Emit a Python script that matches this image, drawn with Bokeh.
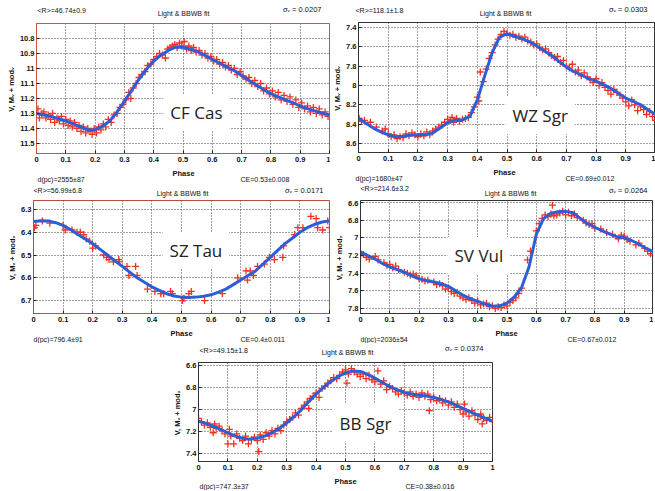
from bokeh.plotting import figure
from bokeh.models import Range1d, CustomJSTickFormatter, Label, Spacer
from bokeh.layouts import row, column
from bokeh.embed import file_html
from bokeh.resources import INLINE

# ---------------- data ----------------
phase_ticks = [0, 0.1, 0.2, 0.3, 0.4, 0.5, 0.6, 0.7, 0.8, 0.9, 1]
fit_phase = [0.000, 0.025, 0.050, 0.075, 0.100, 0.125, 0.150, 0.175, 0.200, 0.225,
             0.250, 0.275, 0.300, 0.325, 0.350, 0.375, 0.400, 0.425, 0.450, 0.475,
             0.500, 0.525, 0.550, 0.575, 0.600, 0.625, 0.650, 0.675, 0.700, 0.725,
             0.750, 0.775, 0.800, 0.825, 0.850, 0.875, 0.900, 0.925, 0.950, 0.975, 1.000]

# CF Cas
cfcas_ticks = [10.8, 10.9, 11.0, 11.1, 11.2, 11.3, 11.4, 11.5]
cfcas_fit = [11.300, 11.310, 11.320, 11.335, 11.350, 11.370, 11.390, 11.410, 11.408, 11.385,
             11.350, 11.290, 11.220, 11.145, 11.070, 11.005, 10.950, 10.910, 10.880, 10.858,
             10.858, 10.870, 10.888, 10.912, 10.940, 10.965, 10.990, 11.015, 11.045, 11.080,
             11.110, 11.140, 11.168, 11.190, 11.210, 11.230, 11.250, 11.268, 11.283, 11.297, 11.310]
cfcas_obs_phase = [0.005, 0.010, 0.018, 0.025, 0.032, 0.040, 0.048, 0.055, 0.062, 0.070,
                   0.078, 0.085, 0.092, 0.100, 0.108, 0.115, 0.122, 0.130, 0.138, 0.145,
                   0.152, 0.160, 0.168, 0.175, 0.183, 0.190, 0.197, 0.205, 0.212, 0.220,
                   0.228, 0.236, 0.245, 0.255, 0.265, 0.275, 0.285, 0.295, 0.305, 0.315,
                   0.322, 0.330, 0.340, 0.350, 0.360, 0.370, 0.380, 0.390, 0.400, 0.410,
                   0.420, 0.430, 0.440, 0.448, 0.456, 0.464, 0.472, 0.480, 0.488, 0.496,
                   0.504, 0.512, 0.520, 0.528, 0.536, 0.545, 0.555, 0.565, 0.575, 0.585,
                   0.595, 0.605, 0.615, 0.625, 0.635, 0.645, 0.655, 0.665, 0.675, 0.685,
                   0.695, 0.705, 0.715, 0.725, 0.735, 0.745, 0.755, 0.765, 0.775, 0.785,
                   0.795, 0.805, 0.815, 0.825, 0.835, 0.845, 0.855, 0.865, 0.875, 0.885,
                   0.895, 0.905, 0.915, 0.925, 0.935, 0.945, 0.955, 0.965, 0.975, 0.985, 0.995]
cfcas_obs_mag = [11.27, 11.33, 11.30, 11.29, 11.33, 11.31, 11.34, 11.30, 11.36, 11.33,
                 11.35, 11.32, 11.37, 11.34, 11.38, 11.35, 11.39, 11.36, 11.40, 11.38,
                 11.42, 11.39, 11.43, 11.40, 11.42, 11.44, 11.40, 11.43, 11.39, 11.41,
                 11.37, 11.39, 11.34, 11.36, 11.31, 11.30, 11.26, 11.24, 11.21, 11.16,
                 11.20, 11.13, 11.10, 11.06, 11.04, 11.02, 10.98, 10.97, 10.94, 10.92,
                 10.90, 10.91, 10.93, 10.87, 10.86, 10.85, 10.84, 10.86, 10.83, 10.85,
                 10.82, 10.87, 10.85, 10.88, 10.86, 10.89, 10.88, 10.91, 10.90, 10.93,
                 10.92, 10.95, 10.94, 10.97, 10.96, 10.99, 10.98, 11.01, 11.00, 11.04,
                 11.02, 11.05, 11.07, 11.06, 11.10, 11.08, 11.12, 11.10, 11.15, 11.13,
                 11.17, 11.15, 11.19, 11.16, 11.21, 11.18, 11.22, 11.19, 11.24, 11.21,
                 11.26, 11.23, 11.27, 11.25, 11.29, 11.26, 11.30, 11.27, 11.31, 11.29, 11.32]

# WZ Sgr
wzsgr_ticks = [7.4, 7.6, 7.8, 8.0, 8.2, 8.4, 8.6]
wzsgr_fit = [8.340, 8.390, 8.440, 8.480, 8.510, 8.530, 8.525, 8.515, 8.510, 8.510,
             8.490, 8.440, 8.385, 8.360, 8.355, 8.320, 8.150, 7.900, 7.660, 7.500,
             7.465, 7.490, 7.515, 7.545, 7.590, 7.640, 7.690, 7.750, 7.810, 7.855,
             7.890, 7.930, 7.955, 7.990, 8.030, 8.080, 8.130, 8.165, 8.200, 8.250, 8.300]
wzsgr_obs_phase = [0.002, 0.010, 0.020, 0.040, 0.060, 0.080, 0.090, 0.100, 0.110, 0.120,
                   0.130, 0.140, 0.150, 0.160, 0.170, 0.180, 0.190, 0.200, 0.210, 0.220,
                   0.230, 0.240, 0.250, 0.260, 0.270, 0.280, 0.290, 0.300, 0.310, 0.315,
                   0.320, 0.330, 0.340, 0.350, 0.360, 0.370, 0.380, 0.390, 0.400, 0.405,
                   0.410, 0.420, 0.430, 0.440, 0.450, 0.460, 0.470, 0.480, 0.490, 0.500,
                   0.510, 0.520, 0.530, 0.540, 0.550, 0.560, 0.570, 0.580, 0.590, 0.600,
                   0.610, 0.620, 0.630, 0.640, 0.650, 0.660, 0.670, 0.680, 0.690, 0.700,
                   0.710, 0.720, 0.730, 0.740, 0.750, 0.760, 0.770, 0.780, 0.790, 0.800,
                   0.810, 0.820, 0.830, 0.840, 0.850, 0.860, 0.870, 0.880, 0.890, 0.900,
                   0.910, 0.920, 0.930, 0.940, 0.950, 0.960, 0.970, 0.980, 0.990, 1.000]
wzsgr_obs_mag = [8.34, 8.37, 8.36, 8.38, 8.43, 8.47, 8.45, 8.50, 8.53, 8.51,
                 8.55, 8.53, 8.54, 8.50, 8.52, 8.49, 8.51, 8.53, 8.50, 8.52,
                 8.48, 8.51, 8.47, 8.45, 8.43, 8.41, 8.38, 8.35, 8.36, 8.33,
                 8.38, 8.34, 8.37, 8.35, 8.34, 8.33, 8.28, 8.22, 8.12, 8.16,
                 7.86, 7.96, 7.83, 7.72, 7.66, 7.58, 7.52, 7.47, 7.44, 7.46,
                 7.48, 7.47, 7.50, 7.49, 7.52, 7.50, 7.54, 7.55, 7.58, 7.57,
                 7.61, 7.63, 7.62, 7.66, 7.69, 7.71, 7.70, 7.76, 7.74, 7.80,
                 7.82, 7.78, 7.86, 7.84, 7.90, 7.87, 7.91, 7.94, 7.97, 7.93,
                 8.00, 7.97, 8.02, 8.05, 8.09, 8.04, 8.07, 8.10, 8.13, 8.17,
                 8.21, 8.15, 8.20, 8.26, 8.22, 8.25, 8.30, 8.27, 8.32, 8.36]

# SZ Tau
sztau_ticks = [6.3, 6.4, 6.5, 6.6, 6.7]
sztau_fit = [6.353, 6.349, 6.350, 6.358, 6.370, 6.388, 6.410, 6.430, 6.450, 6.475,
             6.500, 6.525, 6.550, 6.575, 6.600, 6.620, 6.640, 6.655, 6.670, 6.680,
             6.685, 6.687, 6.685, 6.681, 6.675, 6.663, 6.650, 6.630, 6.610, 6.590,
             6.570, 6.540, 6.510, 6.480, 6.450, 6.425, 6.400, 6.380, 6.365, 6.355, 6.350]
sztau_obs_phase = [0.003, 0.008, 0.030, 0.055, 0.100, 0.107, 0.130, 0.147, 0.158, 0.170,
                   0.178, 0.190, 0.200, 0.210, 0.237, 0.247, 0.255, 0.270, 0.288, 0.290,
                   0.316, 0.322, 0.345, 0.350, 0.385, 0.410, 0.430, 0.440, 0.463, 0.469,
                   0.503, 0.508, 0.525, 0.533, 0.578, 0.638, 0.690, 0.718, 0.723, 0.732,
                   0.743, 0.757, 0.780, 0.797, 0.814, 0.842, 0.845, 0.882, 0.893, 0.910,
                   0.937, 0.955, 0.960, 0.977, 0.994, 1.000]
sztau_obs_mag = [6.38, 6.37, 6.35, 6.36, 6.37, 6.39, 6.39, 6.40, 6.40, 6.41,
                 6.43, 6.44, 6.47, 6.46, 6.50, 6.51, 6.52, 6.53, 6.52, 6.53,
                 6.55, 6.59, 6.55, 6.59, 6.65, 6.66, 6.67, 6.67, 6.66, 6.67,
                 6.70, 6.69, 6.67, 6.66, 6.70, 6.67, 6.60, 6.57, 6.61, 6.57,
                 6.59, 6.55, 6.54, 6.51, 6.52, 6.51, 6.46, 6.41, 6.38, 6.38,
                 6.33, 6.34, 6.38, 6.39, 6.35, 6.38]

# SV Vul
svvul_ticks = [6.6, 6.8, 7.0, 7.2, 7.4, 7.6, 7.8]
svvul_fit = [7.160, 7.200, 7.240, 7.290, 7.330, 7.360, 7.390, 7.430, 7.465, 7.485,
             7.500, 7.520, 7.550, 7.600, 7.650, 7.690, 7.720, 7.750, 7.775, 7.770,
             7.740, 7.670, 7.560, 7.330, 6.960, 6.780, 6.720, 6.705, 6.700, 6.715,
             6.780, 6.840, 6.880, 6.920, 6.955, 6.990, 7.000, 7.030, 7.070, 7.120, 7.160]
svvul_obs_phase = [0.000, 0.010, 0.020, 0.030, 0.050, 0.060, 0.080, 0.090, 0.100, 0.110,
                   0.120, 0.130, 0.150, 0.160, 0.170, 0.180, 0.190, 0.200, 0.210, 0.220,
                   0.230, 0.250, 0.260, 0.270, 0.280, 0.290, 0.300, 0.310, 0.320, 0.330,
                   0.340, 0.350, 0.360, 0.370, 0.380, 0.390, 0.400, 0.410, 0.420, 0.430,
                   0.440, 0.450, 0.460, 0.470, 0.480, 0.490, 0.500, 0.510, 0.520, 0.530,
                   0.540, 0.550, 0.570, 0.580, 0.600, 0.610, 0.620, 0.630, 0.640, 0.650,
                   0.655, 0.660, 0.670, 0.680, 0.690, 0.700, 0.710, 0.720, 0.730, 0.740,
                   0.760, 0.770, 0.780, 0.790, 0.800, 0.820, 0.840, 0.860, 0.880, 0.890,
                   0.900, 0.910, 0.920, 0.940, 0.950, 0.970, 0.980, 0.990]
svvul_obs_mag = [7.20, 7.19, 7.22, 7.24, 7.21, 7.25, 7.28, 7.31, 7.30, 7.34,
                 7.32, 7.36, 7.39, 7.40, 7.42, 7.41, 7.43, 7.46, 7.47, 7.49,
                 7.48, 7.50, 7.53, 7.52, 7.54, 7.58, 7.57, 7.61, 7.63, 7.62,
                 7.66, 7.68, 7.70, 7.68, 7.71, 7.74, 7.72, 7.76, 7.75, 7.74,
                 7.78, 7.77, 7.80, 7.78, 7.79, 7.76, 7.77, 7.73, 7.71, 7.68,
                 7.63, 7.57, 7.25, 7.15, 6.92, 6.84, 6.78, 6.74, 6.76, 6.73,
                 6.63, 6.75, 6.74, 6.72, 6.70, 6.74, 6.71, 6.75, 6.73, 6.77,
                 6.80, 6.83, 6.85, 6.84, 6.89, 6.90, 6.94, 6.96, 7.01, 6.97,
                 6.98, 7.02, 7.04, 7.08, 7.06, 7.12, 7.15, 7.18]

# BB Sgr
bbsgr_ticks = [6.6, 6.8, 7.0, 7.2, 7.4]
bbsgr_fit = [7.105, 7.125, 7.150, 7.180, 7.210, 7.240, 7.260, 7.268, 7.258, 7.240,
             7.210, 7.170, 7.120, 7.065, 7.000, 6.930, 6.860, 6.800, 6.745, 6.700,
             6.668, 6.650, 6.655, 6.680, 6.715, 6.755, 6.790, 6.820, 6.845, 6.860,
             6.870, 6.878, 6.890, 6.910, 6.930, 6.960, 6.990, 7.020, 7.050, 7.078, 7.105]
bbsgr_obs_phase = [0.000, 0.010, 0.020, 0.030, 0.040, 0.050, 0.055, 0.060, 0.070, 0.080,
                   0.090, 0.100, 0.105, 0.110, 0.120, 0.130, 0.140, 0.150, 0.160, 0.170,
                   0.180, 0.190, 0.200, 0.205, 0.210, 0.220, 0.230, 0.240, 0.250, 0.260,
                   0.270, 0.280, 0.290, 0.300, 0.310, 0.320, 0.330, 0.340, 0.350, 0.360,
                   0.370, 0.375, 0.380, 0.390, 0.400, 0.410, 0.420, 0.430, 0.440, 0.450,
                   0.460, 0.470, 0.480, 0.490, 0.500, 0.505, 0.510, 0.520, 0.530, 0.540,
                   0.550, 0.560, 0.570, 0.580, 0.590, 0.600, 0.610, 0.620, 0.630, 0.640,
                   0.650, 0.660, 0.670, 0.680, 0.690, 0.700, 0.710, 0.720, 0.730, 0.740,
                   0.750, 0.760, 0.770, 0.780, 0.785, 0.790, 0.800, 0.810, 0.820, 0.830,
                   0.840, 0.850, 0.860, 0.870, 0.880, 0.890, 0.900, 0.905, 0.910, 0.920,
                   0.930, 0.940, 0.950, 0.960, 0.965, 0.970, 0.980, 0.990, 1.000]
bbsgr_obs_mag = [7.08, 7.11, 7.14, 7.12, 7.16, 7.21, 7.13, 7.17, 7.15, 7.19,
                 7.22, 7.31, 7.18, 7.24, 7.31, 7.22, 7.26, 7.28, 7.24, 7.31,
                 7.27, 7.25, 7.28, 7.38, 7.23, 7.27, 7.21, 7.24, 7.19, 7.22,
                 7.17, 7.19, 7.14, 7.11, 7.09, 7.07, 7.03, 7.05, 6.99, 6.96,
                 6.93, 6.99, 6.90, 6.88, 6.85, 6.89, 6.81, 6.79, 6.76, 6.74,
                 6.71, 6.72, 6.69, 6.66, 6.64, 6.76, 6.68, 6.63, 6.66, 6.68,
                 6.70, 6.68, 6.72, 6.69, 6.73, 6.75, 6.65, 6.77, 6.74, 6.82,
                 6.79, 6.81, 6.84, 6.86, 6.83, 6.85, 6.87, 6.84, 6.88, 6.86,
                 6.89, 6.85, 6.88, 6.86, 7.01, 6.91, 6.89, 6.92, 6.90, 6.94,
                 6.92, 6.96, 6.93, 6.98, 6.95, 7.00, 7.04, 6.95, 7.02, 7.06,
                 7.01, 7.05, 7.09, 7.04, 7.13, 7.08, 7.10, 7.07, 7.11]

# ---------------- styling ----------------
RED = "#f2301e"
BLUE = "#2d5ed6"
HDR_FONT = "Liberation Sans"
TICK_FMT = "return String(parseFloat(tick.toFixed(2)));"


def text_strip(width, height, items):
    """A thin figure (no axes) that carries header / footer texts.
    items: (x_px, y_px_from_top, text, align, size, bold)"""
    t = figure(frame_width=width, frame_height=height, output_backend="svg",
               toolbar_location=None, min_border=0, min_border_left=0,
               min_border_right=0, min_border_top=0, min_border_bottom=0,
               x_range=Range1d(0, width), y_range=Range1d(height, 0),
               x_axis_location=None, y_axis_location=None, frame_align=False)
    t.outline_line_color = None
    t.background_fill_color = "white"
    t.border_fill_color = "white"
    t.grid.visible = False
    for (x, y, s, align, size, bold) in items:
        t.add_layout(Label(x=x, y=y, text=s, text_font=HDR_FONT, text_font_size=size,
                           text_font_style="bold" if bold else "normal",
                           text_color="#111111", text_align=align,
                           text_baseline="middle"))
    return t


def panel(name, obs_x, obs_y, fit_y, yticks, ylim, frame_color,
          fw, fh, bl, br, bb, name_xy, hdr_h, hdr_items, ftr_h, ftr_items):
    p = figure(frame_width=fw, frame_height=fh, output_backend="svg",
               toolbar_location=None, min_border_left=bl, min_border_right=br,
               min_border_top=0, min_border_bottom=bb, frame_align=False,
               x_range=Range1d(0, 1), y_range=Range1d(ylim[0], ylim[1]))
    p.background_fill_color = "white"
    p.border_fill_color = "white"
    p.outline_line_color = frame_color
    p.outline_line_width = 1

    p.xaxis.ticker = phase_ticks
    p.yaxis.ticker = yticks
    p.xaxis.formatter = CustomJSTickFormatter(code=TICK_FMT)
    p.yaxis.formatter = CustomJSTickFormatter(code=TICK_FMT)
    for ax in (p.xaxis[0], p.yaxis[0]):
        ax.axis_line_color = frame_color
        ax.major_tick_line_color = "#222222"
        ax.major_tick_in = 3
        ax.major_tick_out = 0
        ax.minor_tick_line_color = None
        ax.major_label_text_font = HDR_FONT
        ax.major_label_text_font_size = "7.5px"
        ax.major_label_text_font_style = "bold"
        ax.major_label_text_color = "#111111"
        ax.axis_label_text_font = HDR_FONT
        ax.axis_label_text_font_size = "7.5px"
        ax.axis_label_text_font_style = "bold"
        ax.axis_label_text_color = "#111111"
        ax.axis_label_standoff = 1
    p.xaxis.major_label_standoff = 3
    p.yaxis.major_label_standoff = 2
    p.yaxis.axis_label = "V,  M\u1d65 + mod\u1d65"

    p.grid.grid_line_color = "#444444"
    p.grid.grid_line_dash = "1 2"
    p.grid.grid_line_width = 1

    p.scatter(obs_x, obs_y, marker="cross", size=7, line_color=RED, line_width=1.3)
    p.line(fit_phase, fit_y, line_color=BLUE, line_width=3)

    p.add_layout(Label(x=name_xy[0], y=name_xy[1], text=name,
                       text_font="Open Sans", text_font_size="17px",
                       text_color="#222222", text_baseline="middle",
                       background_fill_color="white", padding=7))

    width = bl + fw + br
    head = text_strip(width, hdr_h, hdr_items)
    foot = text_strip(width, ftr_h, ftr_items)
    return column(head, p, foot)


S = "7px"
LB = "Light & BBWB fit"


def hdr(x_r, y_r, x_c, y_c, x_s, y_s, r_txt, s_txt):
    return [(x_r, y_r, r_txt, "left", S, False), (x_c, y_c, LB, "center", S, False),
            (x_s, y_s, s_txt, "right", "7.5px", False)]


def ftr(x_ph, y_ph, x_d, x_ce, y_d, d_txt, ce_txt):
    return [(x_ph, y_ph, "Phase", "center", "7.5px", True),
            (x_d, y_d, d_txt, "left", S, False), (x_ce, y_d, ce_txt, "left", S, False)]


c1 = panel("CF Cas", cfcas_obs_phase, cfcas_obs_mag, cfcas_fit, cfcas_ticks,
           (11.567, 10.70), "#c8553c", 293, 130, 36, 1, 16, (0.433, 11.294),
           23, hdr(37, 10, 183, 13, 321, 9, "<R>=46.74\u00b10.9", "\u03c3\u1d65 = 0.0207"),
           15, ftr(183, 3.5, 37, 240, 10, "d(pc)=2555\u00b187", "CE=0.53\u00b10.008"))
c2 = panel("WZ Sgr", wzsgr_obs_phase, wzsgr_obs_mag, wzsgr_fit, wzsgr_ticks,
           (8.693, 7.348), "#333333", 297, 130, 26, 0, 16, (0.495, 8.31),
           22, hdr(25, 10, 175, 13, 317, 9, "<R>=118.1\u00b11.8", "\u03c3\u1d65 = 0.0303"),
           16, ftr(174, 3.5, 25, 235, 9.5, "d(pc)=1680\u00b147", "CE=0.69\u00b10.012"))
c3 = panel("SZ Tau", sztau_obs_phase, sztau_obs_mag, sztau_fit, sztau_ticks,
           (6.757, 6.2604), "#b5503c", 296, 113, 33, 1, 16, (0.436, 6.48),
           16, hdr(33, 6, 182, 9, 323, 6, "<R>=56.99\u00b16.8", "\u03c3\u1d65 = 0.0171"),
           14, ftr(181, 3.5, 33, 240, 10, "d(pc)=796.4\u00b191", "CE=0.4\u00b10.011"))
c4 = panel("SV Vul", svvul_obs_phase, svvul_obs_mag, svvul_fit, svvul_ticks,
           (7.857, 6.577), "#333333", 293, 113, 30, 0, 16, (0.297, 7.20),
           16, hdr(30, 4, 180, 9, 317, 6, "<R>=214.6\u00b13.2", "\u03c3\u1d65 = 0.0264"),
           14, ftr(176, 3.5, 30, 237, 10, "d(pc)=2036\u00b154", "CE=0.67\u00b10.012"))
c5 = panel("BB Sgr", bbsgr_obs_phase, bbsgr_obs_mag, bbsgr_fit, bbsgr_ticks,
           (7.47, 6.574), "#333333", 294, 99, 38, 8, 16, (0.456, 7.122),
           19, hdr(39, 7, 187, 9, 323, 5, "<R>=49.15\u00b11.8", "\u03c3\u1d65 = 0.0374"),
           13, ftr(185, 3.5, 39, 245, 9, "d(pc)=747.3\u00b137", "CE=0.38\u00b10.016"))

layout = column(row(c1, c2), row(c3, c4), row(Spacer(width=160, height=10), c5))
open("out.html", "w").write(file_html(layout, INLINE))
